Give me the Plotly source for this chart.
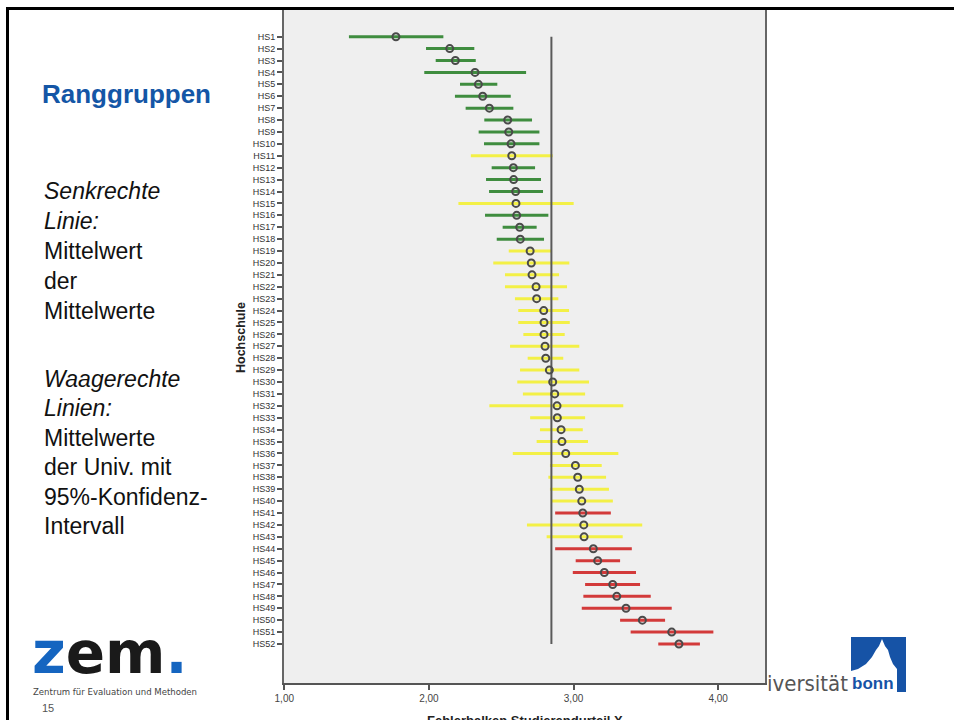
import plotly.graph_objects as go

schools = [f"HS{i}" for i in range(1, 53)]

means = [1.772, 2.144, 2.183, 2.319, 2.342, 2.372, 2.418, 2.545, 2.552, 2.568,
         2.573, 2.584, 2.586, 2.600, 2.602, 2.607, 2.628, 2.632, 2.700, 2.708,
         2.713, 2.741, 2.745, 2.794, 2.796, 2.796, 2.803, 2.808, 2.833, 2.856,
         2.870, 2.886, 2.888, 2.914, 2.920, 2.946, 3.013, 3.029, 3.040, 3.057,
         3.064, 3.071, 3.073, 3.137, 3.167, 3.213, 3.271, 3.299, 3.363, 3.476,
         3.679, 3.729]
lower = [1.447, 1.980, 2.047, 1.968, 2.215, 2.180, 2.254, 2.383, 2.344, 2.381,
         2.290, 2.434, 2.395, 2.416, 2.204, 2.388, 2.510, 2.469, 2.552, 2.445,
         2.526, 2.526, 2.595, 2.618, 2.618, 2.653, 2.561, 2.683, 2.630, 2.611,
         2.650, 2.418, 2.700, 2.768, 2.745, 2.580, 2.837, 2.826, 2.837, 2.848,
         2.873, 2.678, 2.814, 2.873, 3.015, 2.995, 3.080, 3.068, 3.057, 3.322,
         3.395, 3.586]
upper = [2.100, 2.314, 2.324, 2.672, 2.473, 2.566, 2.584, 2.713, 2.764, 2.764,
         2.856, 2.734, 2.775, 2.789, 3.001, 2.826, 2.745, 2.796, 2.851, 2.971,
         2.900, 2.955, 2.895, 2.969, 2.974, 2.939, 3.040, 2.929, 3.040, 3.107,
         3.080, 3.344, 3.080, 3.064, 3.100, 3.310, 3.195, 3.225, 3.245, 3.272,
         3.258, 3.475, 3.340, 3.403, 3.322, 3.432, 3.460, 3.534, 3.679, 3.633,
         3.967, 3.874]
groups = ["G", "G", "G", "G", "G", "G", "G", "G", "G", "G",
          "Y", "G", "G", "G", "Y", "G", "G", "G", "Y", "Y",
          "Y", "Y", "Y", "Y", "Y", "Y", "Y", "Y", "Y", "Y",
          "Y", "Y", "Y", "Y", "Y", "Y", "Y", "Y", "Y", "Y",
          "R", "Y", "Y", "R", "R", "R", "R", "R", "R", "R",
          "R", "R"]
grand_mean = 2.847

x_ticks = [1, 2, 3, 4]
x_tick_labels = ["1,00", "2,00", "3,00", "4,00"]

group_colors = {"G": "#3f8d3f", "Y": "#f3f046", "R": "#d33a3a"}

W, H = 954, 720
L, R, T, B = 284, 765, 10, 683


def px(x):
    return (x - L) / (R - L)


def py(y):
    return (B - y) / (B - T)


fig = go.Figure()

for g in ["Y", "G", "R"]:
    xs, ys = [], []
    for s, lo, hi, gg in zip(schools, lower, upper, groups):
        if gg == g:
            xs += [lo, hi, None]
            ys += [s, s, None]
    fig.add_trace(go.Scatter(x=xs, y=ys, mode="lines",
                             line=dict(color=group_colors[g], width=3),
                             hoverinfo="skip", showlegend=False))

fig.add_trace(go.Scatter(x=[grand_mean, grand_mean], y=[schools[0], schools[-1]],
                         mode="lines", line=dict(color="#5a5a5a", width=2),
                         showlegend=False, hoverinfo="skip"))

fig.add_trace(go.Scatter(x=means, y=schools, mode="markers",
                         marker=dict(symbol="circle-open", size=7, color="#4a4a4a",
                                     line=dict(width=2, color="#4a4a4a")),
                         showlegend=False))

font_main = "Liberation Sans, Arial, sans-serif"

fig.update_layout(
    width=W, height=H,
    margin=dict(l=L, r=W - R, t=T, b=H - B, pad=0),
    paper_bgcolor="white",
    plot_bgcolor="#efefef",
    font=dict(family=font_main, color="#333333"),
    xaxis=dict(range=[0.998, 4.324], tickvals=x_ticks, ticktext=x_tick_labels,
               ticks="outside", ticklen=5, tickwidth=1.5, tickcolor="#555555",
               showgrid=False, zeroline=False, showline=True, linecolor="#555555",
               linewidth=2, mirror=False, tickfont=dict(size=10, color="#444444")),
    yaxis=dict(type="category", categoryorder="array", categoryarray=schools,
               range=[54.275, -2.242], ticks="outside", ticklen=5, tickwidth=1.5,
               tickcolor="#555555", showgrid=False, zeroline=False, showline=True,
               linecolor="#666666", linewidth=2, mirror=True,
               tickfont=dict(size=9, color="#333333")),
)

ann = []
# axis titles
ann.append(dict(x=px(241), y=py(338), xref="paper", yref="paper", text="<b>Hochschule</b>",
                textangle=-90, showarrow=False, xanchor="center", yanchor="middle",
                font=dict(size=12.5, color="#222222", family=font_main)))
ann.append(dict(x=px(525), y=py(711), xref="paper", yref="paper",
                text="<b>Fehlerbalken Studierendurteil X</b>",
                showarrow=False, xanchor="center", yanchor="top",
                font=dict(size=13, color="#222222", family=font_main)))

# left side text
ann.append(dict(x=px(40), y=py(94), xref="paper", yref="paper", text="<b>Ranggruppen</b>",
                showarrow=False, xanchor="left", yanchor="middle",
                font=dict(size=26, color="#1456a6", family=font_main)))
lines = [("<i>Senkrechte</i>", 191), ("<i>Linie:</i>", 221), ("Mittelwert", 251),
         ("der", 281), ("Mittelwerte", 311),
         ("<i>Waagerechte</i>", 379), ("<i>Linien:</i>", 408), ("Mittelwerte", 438),
         ("der Univ. mit", 467), ("95%-Konfidenz-", 497), ("Intervall", 526)]
for txt, yy in lines:
    ann.append(dict(x=px(42), y=py(yy), xref="paper", yref="paper", text=txt,
                    showarrow=False, xanchor="left", yanchor="middle",
                    font=dict(size=23, color="#111111", family=font_main)))

# zem logo
ann.append(dict(x=px(30), y=py(653), xref="paper", yref="paper",
                text="<b><span style='color:#1565c0'>z</span>em<span style='color:#1565c0'>.</span></b>",
                showarrow=False, xanchor="left", yanchor="middle",
                font=dict(size=58, color="#1a1a1a", family="DejaVu Sans, Liberation Sans")))
ann.append(dict(x=px(31), y=py(691), xref="paper", yref="paper",
                text="Zentrum für Evaluation und Methoden",
                showarrow=False, xanchor="left", yanchor="middle",
                font=dict(size=9.5, color="#444444", family="DejaVu Sans Condensed, Liberation Sans Narrow, Liberation Sans")))
ann.append(dict(x=px(40), y=py(708), xref="paper", yref="paper", text="15",
                showarrow=False, xanchor="left", yanchor="middle",
                font=dict(size=11, color="#555555", family=font_main)))

# uni bonn logo text
ann.append(dict(x=px(850), y=py(683), xref="paper", yref="paper", text="iversität",
                showarrow=False, xanchor="right", yanchor="middle",
                font=dict(size=22, color="#555555", family="DejaVu Sans Condensed, Liberation Sans")))

fig.update_layout(annotations=ann)

shapes = []
# slide border
shapes.append(dict(type="line", xref="paper", yref="paper", x0=px(7.5), x1=px(7.5),
                   y0=py(7), y1=py(722), line=dict(color="black", width=3)))
shapes.append(dict(type="line", xref="paper", yref="paper", x0=px(6), x1=px(960),
                   y0=py(8.5), y1=py(8.5), line=dict(color="black", width=3)))
# bonn logo block
shapes.append(dict(type="rect", xref="paper", yref="paper", x0=px(851), x1=px(906),
                   y0=py(692), y1=py(637), fillcolor="#1653a6", line=dict(width=0)))
pts = [(851, 692), (851, 671), (858, 669), (866, 664), (872, 657), (876, 650),
       (879, 646), (882, 639), (885, 646), (888, 650), (890, 657), (893, 664),
       (897, 669), (897, 692)]
path = "M " + " L ".join(f"{px(a):.5f},{py(b):.5f}" for a, b in pts) + " Z"
shapes.append(dict(type="path", xref="paper", yref="paper", path=path,
                   fillcolor="white", line=dict(width=0)))
fig.update_layout(shapes=shapes)

fig.add_annotation(x=px(850), y=py(683), xref="paper", yref="paper", text="<b>bonn</b>",
                   showarrow=False, xanchor="left", yanchor="middle",
                   font=dict(size=17, color="#1653a6", family=font_main))

fig.write_html("out.html", config={"displayModeBar": False},
               post_script="document.body.style.margin='0';document.body.style.overflow='hidden';")
